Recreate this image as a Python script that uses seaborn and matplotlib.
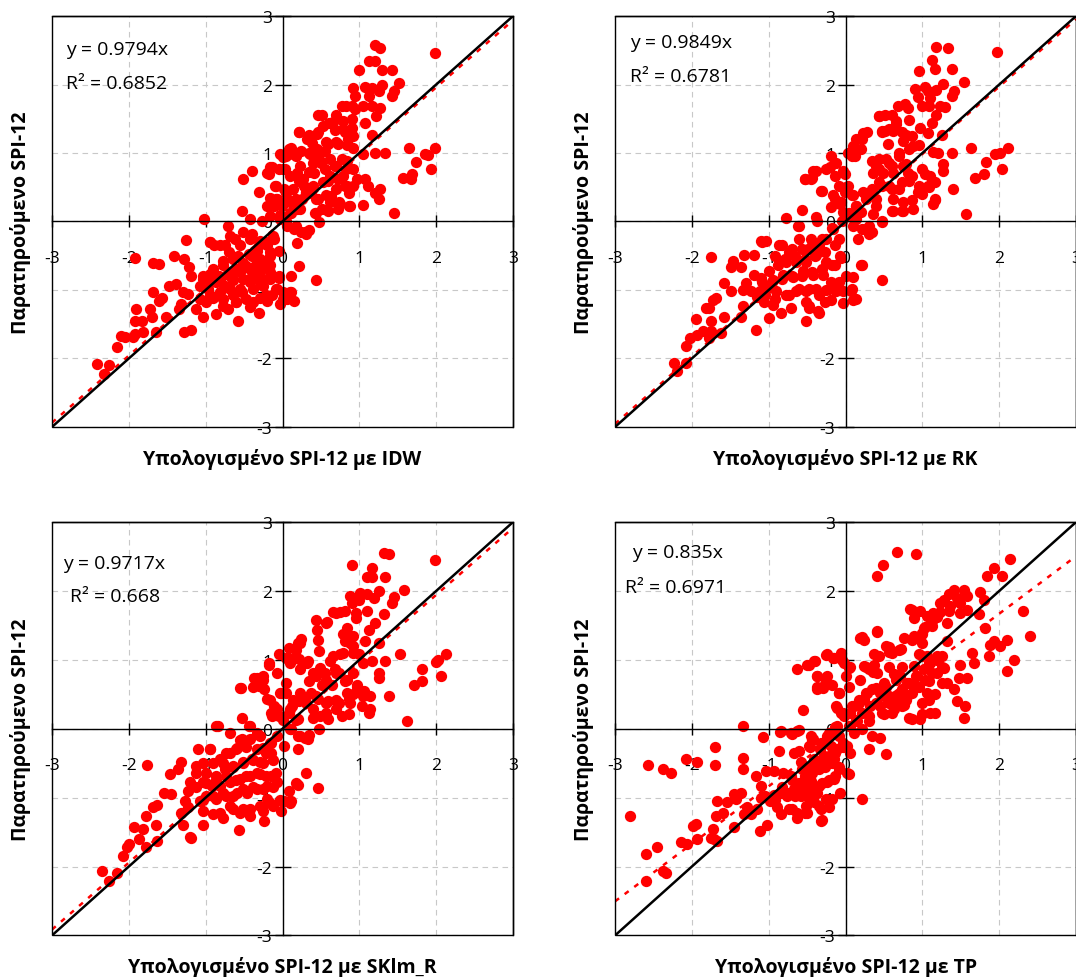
import pandas as pd
import matplotlib.pyplot as plt
from matplotlib.patches import Rectangle
import seaborn as sns

idw_pts = [
    (1.20, 2.57), (1.27, 2.53), (1.99, 2.46), (1.12, 2.35), (1.21, 2.34), (0.99, 2.21), (1.30, 2.21), (1.43, 2.21),
    (1.30, 2.00), (1.51, 2.02), (1.45, 1.90), (1.42, 1.83), (0.92, 1.95), (1.07, 1.97), (1.16, 1.95), (1.25, 1.90),
    (0.94, 1.83), (1.12, 1.83), (0.90, 1.68), (1.05, 1.69), (1.16, 1.68), (1.27, 1.66), (1.22, 1.54), (0.77, 1.68),
    (0.83, 1.68), (0.94, 1.64), (0.46, 1.56), (0.52, 1.56), (0.69, 1.56), (0.61, 1.44), (0.79, 1.47), (0.90, 1.49),
    (0.22, 1.31), (0.35, 1.27), (0.46, 1.30), (0.68, 1.34), (0.81, 1.30), (0.90, 1.37), (1.07, 1.44), (1.16, 1.27),
    (0.39, 1.15), (0.59, 1.13), (0.72, 1.13), (0.85, 1.20), (0.92, 1.08), (0.11, 1.08), (0.24, 1.03), (0.35, 1.00),
    (0.46, 1.00), (-0.03, 0.98), (0.04, 0.96), (0.17, 0.96), (1.05, 0.98), (1.21, 1.00), (1.33, 1.00), (1.65, 1.08),
    (1.99, 1.08), (1.85, 0.99), (1.89, 0.97), (1.74, 0.87), (1.93, 0.76), (1.57, 0.64), (1.67, 0.62), (1.69, 0.69),
    (1.45, 0.12), (1.05, 0.24), (1.25, 0.33), (1.27, 0.47), (1.07, 0.62), (1.11, 0.52), (1.20, 0.42), (0.92, 0.52),
    (0.87, 0.42), (0.77, 0.91), (0.83, 0.76), (0.68, 0.81), (0.55, 0.76), (0.59, 0.59), (0.72, 0.62), (0.81, 0.52),
    (0.63, 0.37), (0.74, 0.28), (0.59, 0.16), (0.87, 0.23), (0.72, 0.18), (0.48, -0.01), (0.44, 0.13), (0.46, 0.33),
    (0.37, 0.42), (0.28, 0.52), (0.22, 0.59), (0.19, 0.71), (0.41, 0.71), (0.50, 0.86), (0.30, 0.42), (0.26, 0.33),
    (0.15, 0.28), (0.19, 0.18), (0.11, 0.13), (0.06, 0.33), (0.02, 0.47), (-0.07, 0.33), (-0.11, 0.23), (-0.16, 0.35),
    (-0.20, 0.23), (-0.09, 0.52), (0.00, 0.76), (-0.16, 0.79), (-0.20, 0.71), (-0.51, 0.62), (-0.40, 0.74), (-0.31, 0.43),
    (-0.53, 0.16), (-1.02, 0.04), (-0.42, 0.03), (-0.27, 0.01), (-0.16, 0.08), (-0.03, 0.03), (0.06, -0.06), (0.15, -0.11),
    (0.24, -0.16), (0.30, -0.18), (0.19, -0.31), (0.22, -0.65), (0.11, -0.79), (0.44, -0.85), (0.11, -1.03), (0.15, -1.16),
    (0.00, -1.03), (-0.03, -1.20), (0.06, -1.13), (-0.71, -0.07), (-0.62, -0.25), (-0.95, -0.30), (-0.89, -0.35),
    (-0.75, -0.35), (-1.26, -0.27), (-0.51, -0.16), (-0.40, -0.18), (-0.29, -0.28), (-0.20, -0.35), (-0.33, -0.43),
    (-0.44, -0.48), (-0.58, -0.50), (-0.69, -0.45), (-0.78, -0.57), (-0.11, -0.26), (-0.05, -0.43), (-0.16, -0.50),
    (-0.25, -0.60), (-0.36, -0.65), (-0.47, -0.65), (-0.60, -0.69), (-0.69, -0.74), (-0.82, -0.79), (-0.95, -0.77),
    (-1.04, -0.84), (-1.08, -0.94), (-0.97, -0.99), (-0.86, -0.89), (-0.75, -0.94), (-0.64, -0.86), (-0.51, -0.84),
    (-0.40, -0.79), (-0.29, -0.79), (-0.16, -0.74), (-0.05, -0.82), (-0.25, -0.94), (-0.38, -0.99), (-0.53, -1.03),
    (-0.64, -1.08), (-0.78, -1.13), (-0.91, -1.11), (-1.00, -1.18), (-1.13, -1.28), (-1.04, -1.40), (-0.86, -1.35),
    (-0.71, -1.28), (-0.58, -1.45), (-0.42, -1.25), (-0.31, -1.33), (-0.20, -1.16), (-0.14, -1.08), (-0.07, -0.99),
    (-0.29, -1.11), (-0.47, -1.13), (-0.60, -1.18), (-1.22, -0.67), (-1.28, -0.55), (-1.41, -0.50), (-1.19, -0.79),
    (-1.39, -0.91), (-1.48, -0.94), (-1.30, -1.03), (-1.23, -1.06), (-1.32, -1.20), (-1.35, -1.28), (-1.19, -1.59),
    (-1.28, -1.62), (-1.52, -1.40), (-1.68, -0.60), (-1.61, -0.62), (-1.92, -0.54), (-1.68, -1.03), (-1.57, -1.11),
    (-1.61, -1.16), (-1.72, -1.28), (-1.90, -1.28), (-1.70, -1.40), (-1.83, -1.45), (-1.92, -1.45), (-1.81, -1.62),
    (-1.64, -1.62), (-1.92, -1.64), (-1.94, -1.69), (-2.05, -1.69), (-2.10, -1.67), (-2.16, -1.83), (-2.41, -2.08),
    (-2.26, -2.10), (-2.32, -2.22),
    (-0.18, 0.70), (-0.14, 0.79), (-0.10, 0.52), (-0.05, 0.76), (0.03, 0.76), (-0.08, 0.33), (-0.16, 0.23), (-0.01, 0.23),
    (0.10, 0.28), (0.05, 0.42), (0.14, 0.48), (0.18, 0.33), (0.23, 0.18), (0.10, 0.13), (-0.03, 0.09), (0.05, 0.00),
    (0.18, -0.06), (0.29, -0.16), (0.34, -0.13), (0.10, 0.67), (0.27, 0.62), (0.23, 0.81), (0.34, 0.72), (0.40, 0.86),
    (0.36, 0.98), (0.47, 0.91), (0.55, 1.03), (0.62, 0.91), (0.70, 0.81), (0.84, 0.88), (0.92, 0.77), (0.79, 0.67),
    (0.62, 0.67), (0.53, 0.57), (0.40, 0.52), (0.31, 0.43), (0.44, 0.33), (0.57, 0.38), (0.70, 0.47), (0.84, 0.52),
    (0.97, 0.62), (0.62, 0.28), (0.75, 0.25), (0.88, 0.23), (0.51, 0.18), (0.42, 0.13), (0.21, 1.30), (0.32, 1.20),
    (0.45, 1.28), (0.53, 1.40), (0.66, 1.45), (0.79, 1.35), (0.92, 1.25), (0.84, 1.11), (0.70, 1.16), (0.57, 1.16),
    (0.45, 1.06), (0.08, 1.06), (0.14, 0.98), (0.01, 0.94), (-0.94, -0.30), (-0.81, -0.35), (-0.68, -0.21),
    (-0.55, -0.35), (-0.42, -0.25), (-0.31, -0.35), (-0.21, -0.30), (-0.12, -0.21), (-0.16, -0.45), (-0.29, -0.55),
    (-0.40, -0.50), (-0.51, -0.60), (-0.64, -0.55), (-0.77, -0.64), (-0.90, -0.69), (-1.03, -0.79), (-0.94, -0.89),
    (-0.81, -0.84), (-0.68, -0.79), (-0.55, -0.74), (-0.42, -0.69), (-0.29, -0.69), (-0.16, -0.64), (-0.05, -0.79),
    (-0.16, -0.84), (-0.29, -0.89), (-0.42, -0.89), (-0.55, -0.98), (-0.68, -0.98), (-0.81, -1.03), (-0.94, -1.08),
    (-1.07, -1.13), (-0.77, -1.23), (-0.60, -1.18), (-0.38, -1.18), (-0.21, -1.08), (-0.08, -0.98), (0.01, -1.13),
    (0.10, -1.03),
]

rk_pts = [
    (1.18, 2.55), (1.33, 2.53), (1.97, 2.47), (1.12, 2.36), (0.96, 2.20), (1.17, 2.22), (1.38, 2.22), (1.54, 2.03),
    (1.27, 2.01), (1.41, 1.91), (1.39, 1.83), (0.90, 1.93), (1.03, 1.97), (1.07, 1.91), (1.18, 1.92), (0.94, 1.82),
    (1.10, 1.80), (0.99, 1.68), (1.09, 1.69), (1.23, 1.68), (1.29, 1.67), (1.18, 1.56), (1.12, 1.44), (0.68, 1.69),
    (0.77, 1.71), (0.81, 1.66), (0.66, 1.42), (0.83, 1.48), (0.44, 1.54), (0.51, 1.56), (0.60, 1.56), (0.47, 1.32),
    (0.51, 1.32), (0.62, 1.32), (0.79, 1.27), (0.97, 1.37), (1.07, 1.29), (1.26, 1.27), (0.23, 1.29), (0.14, 1.20),
    (0.10, 1.10), (0.20, 1.06), (0.55, 1.13), (0.75, 1.17), (0.88, 1.10), (0.03, 1.00), (0.12, 0.96), (-0.19, 0.96),
    (-0.12, 0.86), (-0.01, 0.69), (0.03, 0.52), (1.14, 1.01), (1.20, 1.00), (1.38, 1.00), (1.63, 1.08), (2.12, 1.08),
    (2.01, 1.00), (1.94, 0.98), (1.83, 0.87), (2.03, 0.76), (1.80, 0.69), (1.68, 0.64), (1.40, 0.47), (1.57, 0.11),
    (1.27, 0.84), (1.27, 0.74), (1.16, 0.57), (1.16, 0.33), (1.14, 0.26), (1.03, 0.69), (1.07, 0.52), (0.94, 0.43),
    (0.88, 0.18), (0.70, 1.00), (0.75, 0.81), (0.57, 0.86), (0.44, 0.91), (0.40, 0.81), (0.36, 0.71), (0.49, 0.71),
    (0.62, 0.71), (0.81, 0.71), (0.83, 0.59), (0.44, 0.57), (0.57, 0.52), (0.70, 0.47), (0.33, 0.43), (0.23, 0.43),
    (0.27, 0.33), (0.40, 0.33), (0.62, 0.33), (0.75, 0.28), (0.62, 0.16), (0.75, 0.16), (0.36, 0.11), (0.47, 0.01),
    (0.10, 0.38), (0.14, 0.23), (0.20, 0.14), (0.05, 0.09), (0.10, -0.06), (-0.03, 0.14), (-0.06, 0.28), (-0.14, 0.33),
    (-0.19, 0.21), (-0.01, 0.43), (-0.08, 0.52), (-0.25, 0.76), (-0.32, 0.45), (-0.43, 0.74), (-0.53, 0.62),
    (-0.45, 0.62), (-0.57, 0.17), (-0.77, 0.05), (-0.38, 0.06), (-0.62, -0.06), (0.27, -0.11), (0.31, -0.18),
    (0.16, -0.25), (0.20, -0.64), (0.10, -0.81), (0.47, -0.86), (0.07, -1.02), (0.10, -1.14), (-0.03, -1.19),
    (-0.03, -1.02), (-0.17, -0.11), (-0.08, -0.25), (-0.25, -0.25), (-0.34, -0.35), (-0.45, -0.25), (-0.60, -0.25),
    (-0.73, -0.44), (-0.86, -0.35), (-1.03, -0.28), (-1.10, -0.28), (-0.49, -0.40), (-0.38, -0.49), (-0.25, -0.59),
    (-0.14, -0.64), (-0.06, -0.54), (-0.51, -0.59), (-0.64, -0.59), (-0.77, -0.59), (-0.88, -0.64), (-0.99, -0.73),
    (-1.10, -0.83), (-0.95, -0.86), (-0.82, -0.78), (-0.69, -0.81), (-0.56, -0.73), (-0.43, -0.78), (-0.30, -0.78),
    (-0.19, -0.88), (-0.10, -0.95), (-0.25, -1.00), (-0.38, -0.98), (-0.51, -1.02), (-0.64, -1.02), (-0.77, -1.07),
    (-0.90, -1.02), (-1.03, -0.98), (-1.12, -1.02), (-1.06, -1.17), (-0.95, -1.22), (-0.99, -1.41), (-0.84, -1.34),
    (-0.71, -1.27), (-0.51, -1.17), (-0.47, -1.27), (-0.36, -1.31), (-0.51, -1.46), (-0.27, -1.17), (-0.19, -1.14),
    (-0.12, -1.02), (-1.32, -0.49), (-1.19, -0.49), (-1.47, -0.57), (-1.36, -0.66), (-1.49, -0.66), (-1.19, -0.78),
    (-1.30, -0.90), (-1.34, -1.00), (-1.15, -1.10), (-1.23, -1.02), (-1.34, -1.24), (-1.36, -1.39), (-1.17, -1.58),
    (-1.58, -0.90), (-1.49, -1.02), (-1.69, -1.12), (-1.73, -1.15), (-1.82, -1.26), (-1.78, -1.26), (-1.58, -1.39),
    (-1.75, -1.45), (-1.95, -1.43), (-1.86, -1.60), (-1.93, -1.65), (-2.03, -1.70), (-1.75, -1.60), (-1.78, -1.70),
    (-1.62, -1.63), (-2.08, -1.82), (-2.23, -2.06), (-2.08, -2.06), (-2.19, -2.19), (-1.75, -0.52),
    (-0.53, 0.62), (-0.44, 0.64), (-0.38, 0.74), (-0.20, 0.79), (-0.14, 0.67), (-0.03, 0.74), (-0.31, 0.45),
    (-0.16, 0.38), (-0.07, 0.26), (0.00, 0.50), (0.08, 0.38), (0.13, 0.23), (0.04, 0.13), (-0.05, 0.00), (0.13, 0.04),
    (0.21, -0.11), (0.34, -0.16), (0.30, -0.06), (0.08, 0.96), (0.15, 1.06), (0.21, 1.20), (0.28, 1.30), (0.34, 0.89),
    (0.43, 0.77), (0.52, 0.91), (0.60, 0.81), (0.69, 0.96), (0.78, 0.84), (0.86, 0.67), (0.95, 0.52), (0.73, 0.57),
    (0.60, 0.47), (0.47, 0.52), (0.34, 0.47), (0.26, 0.38), (0.39, 0.23), (0.47, -0.01), (0.60, 0.16), (0.73, 0.16),
    (0.86, 0.31), (1.00, 0.40), (1.08, 0.50), (1.17, 0.31), (1.10, 0.67), (1.00, 0.77), (0.82, 1.06), (0.95, 1.11),
    (0.86, 1.25), (0.73, 1.30), (0.56, 1.35), (0.47, 1.30), (0.65, 1.47), (0.43, 1.54), (-0.61, -0.06), (-0.37, 0.00),
    (-0.18, -0.10), (-0.31, -0.25), (-0.44, -0.35), (-0.57, -0.40), (-0.70, -0.40), (-0.83, -0.35), (-1.09, -0.30),
    (-0.92, -0.50), (-0.79, -0.55), (-0.66, -0.50), (-0.53, -0.55), (-0.40, -0.50), (-0.27, -0.45), (-0.14, -0.35),
    (-0.07, -0.50), (-0.18, -0.64), (-0.31, -0.69), (-0.44, -0.74), (-0.57, -0.79), (-0.70, -0.79), (-0.83, -0.84),
    (-0.96, -0.89), (-1.09, -0.89), (-1.05, -1.08), (-0.92, -1.13), (-0.74, -1.08), (-0.61, -0.98), (-0.48, -0.98),
    (-0.35, -1.08), (-0.22, -0.98), (-0.09, -0.89), (0.00, -0.79), (0.08, -0.98), (0.13, -1.13), (0.21, -0.64),
    (-0.48, -1.23), (-0.35, -1.33),
]

sklm_pts = [
    (1.32, 2.55), (1.38, 2.54), (1.99, 2.45), (0.90, 2.37), (1.16, 2.33), (1.10, 2.20), (1.34, 2.20), (1.16, 2.20),
    (1.58, 2.02), (1.45, 1.91), (1.42, 1.83), (0.88, 1.93), (1.01, 1.97), (1.10, 1.96), (0.99, 1.87), (1.19, 1.90),
    (1.25, 2.00), (0.90, 1.82), (1.10, 1.71), (1.32, 1.66), (1.21, 1.54), (0.95, 1.68), (1.12, 1.44), (0.66, 1.69),
    (0.75, 1.69), (0.81, 1.71), (0.44, 1.58), (0.58, 1.55), (0.84, 1.46), (0.95, 1.61), (0.20, 1.25), (0.24, 1.30),
    (0.46, 1.29), (0.81, 1.27), (0.92, 1.34), (1.08, 1.27), (1.25, 1.25), (0.09, 1.17), (0.48, 1.13), (0.75, 1.08),
    (0.92, 1.20), (0.99, 1.09), (-0.04, 1.08), (0.04, 1.03), (0.11, 1.01), (0.22, 1.01), (0.33, 0.98), (-0.18, 0.93),
    (1.16, 0.98), (1.34, 0.98), (1.53, 1.08), (2.00, 0.97), (2.03, 1.00), (2.13, 1.08), (1.82, 0.87), (2.06, 0.77),
    (1.81, 0.69), (1.71, 0.63), (1.39, 0.47), (1.62, 0.11), (1.14, 0.47), (1.12, 0.23), (1.03, 0.33), (1.25, 0.81),
    (1.25, 0.74), (0.62, 0.98), (0.68, 0.86), (0.73, 0.81), (0.55, 0.81), (0.44, 0.76), (0.35, 0.69), (0.51, 0.64),
    (0.64, 0.64), (0.81, 0.69), (0.92, 0.81), (0.97, 0.64), (1.06, 0.55), (0.37, 0.52), (0.29, 0.43), (0.22, 0.40),
    (0.46, 0.43), (0.59, 0.40), (0.73, 0.38), (0.86, 0.43), (0.92, 0.50), (0.77, 0.18), (0.59, 0.14), (0.86, 0.21),
    (0.40, 0.16), (0.48, -0.01), (0.13, 0.33), (0.09, 0.23), (0.20, 0.14), (0.11, -0.01), (0.04, 0.52), (-0.02, 0.52),
    (-0.11, 0.33), (-0.15, 0.23), (-0.04, 0.18), (-0.20, 0.43), (-0.24, 0.57), (-0.37, 0.74), (-0.26, 0.76),
    (-0.31, 0.62), (-0.54, 0.59), (-0.53, 0.16), (-0.84, 0.04), (-0.44, 0.04), (-0.33, -0.06), (0.20, -0.11),
    (0.29, -0.13), (0.33, -0.15), (0.20, -0.30), (0.31, -0.64), (0.20, -0.82), (0.46, -0.86), (0.09, -0.90),
    (0.11, -1.05), (-0.02, -1.19), (0.02, -1.05), (-0.07, -0.11), (0.02, -0.25), (-0.15, -0.20), (-0.26, -0.28),
    (-0.42, -0.15), (-0.53, -0.15), (-0.59, -0.28), (-0.68, -0.35), (-0.95, -0.29), (-1.10, -0.30), (-0.81, -0.44),
    (-0.15, -0.35), (-0.29, -0.49), (-0.40, -0.44), (-0.51, -0.49), (-0.64, -0.54), (-0.75, -0.59), (-0.86, -0.69),
    (-0.99, -0.64), (-1.12, -0.64), (-1.03, -0.78), (-0.92, -0.83), (-0.81, -0.83), (-0.68, -0.78), (-0.55, -0.73),
    (-0.42, -0.69), (-0.29, -0.66), (-0.15, -0.69), (-0.07, -0.78), (-0.20, -0.83), (-0.33, -0.88), (-0.46, -0.93),
    (-0.59, -0.93), (-0.73, -0.98), (-0.86, -1.02), (-0.99, -0.98), (-1.08, -1.05), (-1.03, -1.19), (-0.90, -1.24),
    (-0.77, -1.29), (-0.64, -1.17), (-0.51, -1.17), (-0.42, -1.27), (-0.26, -1.19), (-0.24, -1.34), (-0.13, -1.12),
    (-0.20, -1.02), (-0.57, -1.47), (-1.03, -1.39), (-1.32, -0.49), (-1.36, -0.59), (-1.47, -0.66), (-1.12, -0.54),
    (-1.21, -0.78), (-1.23, -0.90), (-1.27, -1.05), (-1.23, -1.14), (-1.32, -1.22), (-1.30, -1.39), (-1.19, -1.58),
    (-1.21, -1.57), (-1.76, -0.53), (-1.54, -0.93), (-1.45, -0.95), (-1.63, -1.10), (-1.69, -1.14), (-1.78, -1.27),
    (-1.65, -1.39), (-1.82, -1.46), (-1.93, -1.43), (-1.87, -1.60), (-2.00, -1.68), (-2.02, -1.72), (-1.78, -1.72),
    (-1.63, -1.63), (-2.07, -1.85), (-2.35, -2.06), (-2.15, -2.09), (-2.26, -2.21),
    (-0.55, 0.59), (-0.38, 0.61), (-0.33, 0.73), (-0.25, 0.71), (-0.18, 0.95), (-0.07, 0.81), (0.05, 0.66),
    (-0.03, 0.52), (-0.16, 0.42), (-0.07, 0.28), (-0.14, 0.18), (0.01, 0.13), (0.10, 0.28), (0.14, 0.42), (0.23, 0.52),
    (0.18, 0.13), (0.10, -0.01), (0.23, -0.11), (0.34, -0.09), (0.10, 0.96), (0.23, 0.87), (0.32, 0.96), (0.40, 0.81),
    (0.49, 0.88), (0.57, 0.71), (0.70, 0.81), (0.84, 0.71), (0.97, 0.61), (0.84, 0.52), (0.70, 0.42), (0.57, 0.38),
    (0.44, 0.47), (0.31, 0.38), (0.40, 0.28), (0.57, 0.23), (0.70, 0.28), (0.88, 0.37), (1.05, 0.47), (1.14, 0.28),
    (0.49, 0.18), (0.45, 1.43), (0.57, 1.53), (0.70, 1.68), (0.79, 1.38), (0.88, 1.24), (0.79, 1.10), (0.66, 1.05),
    (0.92, 1.10), (1.05, 0.95), (0.23, 1.24), (0.18, 1.14), (-0.86, 0.04), (-0.68, -0.06), (-0.55, -0.16),
    (-0.42, 0.04), (-0.29, -0.11), (-0.16, -0.20), (-0.21, -0.35), (-0.33, -0.30), (-0.47, -0.26), (-0.60, -0.30),
    (-0.73, -0.35), (-0.94, -0.30), (-1.03, -0.50), (-0.90, -0.50), (-0.77, -0.50), (-0.64, -0.55), (-0.51, -0.50),
    (-0.38, -0.45), (-0.25, -0.50), (-0.12, -0.45), (-0.08, -0.64), (-0.21, -0.69), (-0.33, -0.64), (-0.47, -0.69),
    (-0.60, -0.74), (-0.73, -0.69), (-0.86, -0.74), (-0.99, -0.79), (-1.12, -0.84), (-1.03, -1.03), (-0.90, -0.98),
    (-0.77, -0.93), (-0.64, -0.98), (-0.51, -0.88), (-0.38, -0.84), (-0.25, -0.88), (-0.12, -0.84), (-0.03, -1.03),
    (-0.16, -1.08), (-0.29, -1.12), (-0.42, -1.17), (-0.55, -1.22), (-0.68, -1.12), (-0.81, -1.22), (0.10, -1.08),
    (0.18, -0.79),
]

tp_pts = [
    (0.67, 2.56), (0.91, 2.54), (0.49, 2.38), (0.41, 2.21), (2.14, 2.46), (1.93, 2.34), (2.03, 2.21), (1.84, 2.21),
    (1.41, 2.01), (1.34, 1.95), (1.28, 1.87), (1.45, 1.90), (1.54, 2.01), (1.58, 1.92), (1.49, 1.83), (1.23, 1.83),
    (1.36, 1.78), (1.75, 1.98), (1.80, 1.87), (1.73, 1.66), (1.58, 1.73), (1.49, 1.68), (1.34, 1.71), (1.23, 1.69),
    (1.14, 1.68), (1.06, 1.63), (0.97, 1.71), (0.84, 1.74), (0.89, 1.60), (1.02, 1.46), (1.13, 1.49), (1.19, 1.62),
    (1.32, 1.53), (2.31, 1.71), (1.81, 1.46), (2.40, 1.34), (2.10, 1.29), (1.93, 1.27), (1.88, 1.22), (2.01, 1.20),
    (1.86, 1.06), (2.19, 1.00), (2.10, 0.84), (1.64, 1.10), (1.67, 0.96), (1.49, 0.93), (1.58, 0.74), (1.47, 0.74),
    (1.32, 0.67), (1.41, 0.57), (1.45, 0.40), (1.56, 0.33), (1.54, 0.16), (1.17, 0.23), (1.10, 0.23), (0.99, 0.21),
    (0.97, 0.14), (0.87, 0.14), (0.82, 0.16), (1.17, 0.50), (1.06, 0.52), (0.41, 1.42), (0.76, 1.32), (0.89, 1.34),
    (1.00, 1.39), (1.00, 1.25), (1.32, 1.27), (0.52, 1.20), (0.61, 1.10), (0.72, 1.15), (0.37, 1.08), (0.19, 1.32),
    (0.24, 1.29), (0.95, 1.08), (1.06, 1.05), (1.10, 0.96), (1.19, 1.00), (1.26, 1.05), (1.28, 0.88), (1.19, 0.81),
    (1.08, 0.69), (1.02, 0.86), (0.89, 0.91), (0.93, 0.76), (0.63, 0.79), (0.71, 0.76), (0.80, 0.67), (0.89, 0.62),
    (0.80, 0.47), (0.67, 0.43), (0.76, 0.35), (0.63, 0.28), (0.50, 0.21), (0.56, 0.47), (0.45, 0.52), (0.39, 0.59),
    (0.28, 0.52), (0.24, 0.43), (0.32, 0.33), (0.45, 0.33), (0.17, 0.38), (0.11, 0.33), (0.06, 0.23), (0.15, 0.11),
    (0.06, 0.04), (0.11, -0.06), (0.22, -0.01), (0.30, 0.11), (0.37, 0.93), (0.24, 0.91), (0.30, 0.86), (0.41, 0.81),
    (0.19, 0.71), (0.50, 0.67), (-0.06, 1.10), (-0.15, 1.03), (-0.24, 1.08), (-0.02, 0.96), (0.04, 0.88),
    (-0.09, 0.52), (-0.13, 0.33), (-0.24, 0.67), (-0.24, 0.76), (-0.30, 0.59), (-0.37, 0.57), (-0.37, 0.76),
    (-0.41, 0.98), (-0.50, 0.93), (-0.63, 0.86), (-0.56, 0.27), (-0.06, 0.23), (-0.11, 0.04), (-0.02, 0.18),
    (-0.15, -0.06), (-0.24, -0.11), (-0.32, -0.20), (-0.19, -0.25), (-0.28, -0.40), (-0.41, -0.44), (-0.50, -0.59),
    (-0.37, -0.54), (-0.24, -0.49), (-0.15, -0.44), (-0.11, -0.30), (-0.04, -0.20), (0.02, -0.25), (0.06, -0.35),
    (0.02, -0.64), (-0.09, -0.59), (-0.15, -0.73), (-0.24, -0.78), (-0.35, -0.83), (-0.45, -0.76), (-0.56, -0.81),
    (-0.67, -0.88), (-0.58, -0.98), (-0.48, -1.00), (-0.37, -0.93), (-0.26, -1.02), (-0.32, -1.17), (-0.22, -1.14),
    (-0.41, -1.07), (-0.52, -1.12), (-0.63, -1.22), (-0.74, -1.17), (-0.84, -1.24), (-0.89, -1.14), (-0.76, -0.98),
    (-0.84, -0.93), (-0.71, -0.68), (-0.82, -0.64), (-0.93, -0.61), (-1.04, -0.61), (-0.58, -0.49), (-0.67, -0.35),
    (-0.61, -0.32), (-0.48, -0.25), (-0.43, -0.15), (-0.71, -0.06), (-0.84, -0.03), (-0.63, -0.03), (-0.45, -0.11),
    (-1.08, -0.12), (-1.34, 0.04), (-0.86, -0.33), (0.22, -1.02), (0.04, -0.66), (0.30, -0.30), (0.52, -0.37),
    (0.45, -0.13), (0.35, -0.11), (-0.32, -1.34), (-0.50, -1.22), (-0.63, -1.29), (-0.98, -1.05), (-1.10, -1.00),
    (-1.17, -0.69), (-1.10, -0.83), (-0.93, -0.96), (-1.15, -1.17), (-1.28, -1.14), (-1.23, -1.24), (-1.02, -1.39),
    (-1.11, -1.48), (-1.34, -0.42), (-1.33, -0.59), (-1.45, -0.95), (-1.36, -0.93), (-1.43, -1.02), (-1.32, -1.24),
    (-1.45, -1.43), (-1.54, -1.07), (-1.67, -1.05), (-1.60, -1.22), (-1.69, -1.27), (-1.73, -1.46), (-1.71, -1.60),
    (-1.75, -1.58), (-1.67, -1.63), (-2.08, -0.44), (-1.93, -0.49), (-1.70, -0.26), (-1.70, -0.53), (-2.38, -0.59),
    (-2.27, -0.64), (-2.57, -0.53), (-2.80, -1.27), (-1.99, -1.41), (-1.95, -1.38), (-1.93, -1.60), (-2.06, -1.68),
    (-2.14, -1.65), (-2.45, -1.72), (-2.60, -1.82), (-2.38, -2.06), (-2.34, -2.09), (-2.60, -2.21),
    (-0.48, 0.93), (-0.40, 0.98), (-0.25, 1.07), (-0.16, 1.02), (-0.05, 1.00), (-0.37, 0.76), (-0.25, 0.71),
    (-0.31, 0.61), (-0.37, 0.61), (-0.18, 0.64), (-0.09, 0.52), (0.04, 0.61), (0.01, 0.76), (0.06, 0.90),
    (-0.11, 0.30), (-0.03, 0.23), (0.08, 0.33), (0.17, 0.42), (0.26, 0.52), (0.34, 0.57), (0.21, 0.23), (0.13, 0.13),
    (0.04, 0.04), (0.30, 0.18), (0.39, 0.37), (0.50, 0.47), (0.56, 0.37), (0.65, 0.47), (0.74, 0.57), (0.78, 0.42),
    (0.87, 0.52), (0.95, 0.61), (1.04, 0.71), (1.12, 0.81), (0.91, 0.76), (0.82, 0.66), (0.65, 0.71), (0.52, 0.61),
    (0.47, 0.23), (0.60, 0.23), (0.74, 0.33), (1.00, 0.37), (1.08, 0.42), (1.26, 0.66), (1.08, 0.95), (1.00, 1.05),
    (1.19, 1.05), (1.26, 0.90), (0.26, 0.90), (0.36, 0.83), (0.43, 1.05), (0.56, 1.12), (0.69, 1.14), (0.73, 0.90),
    (0.56, 0.90), (0.21, 1.33), (0.41, 1.40), (0.56, 1.19), (0.87, 1.29), (1.00, 1.38), (1.04, 1.48), (1.12, 1.57),
    (0.87, 1.72), (-0.85, -0.05), (-0.70, -0.07), (-0.61, -0.02), (-0.44, -0.16), (-0.46, -0.26), (-0.33, -0.30),
    (-0.25, -0.21), (-0.22, -0.06), (-0.14, 0.03), (-0.09, -0.11), (-0.03, -0.26), (-0.14, -0.35), (-0.22, -0.40),
    (-0.31, -0.45), (-0.40, -0.50), (-0.48, -0.55), (-0.57, -0.59), (-0.70, -0.74), (-0.61, -0.79), (-0.53, -0.69),
    (-0.44, -0.64), (-0.35, -0.59), (-0.27, -0.55), (-0.18, -0.50), (-0.09, -0.55), (-0.14, -0.69), (-0.22, -0.74),
    (-0.31, -0.79), (-0.40, -0.84), (-0.48, -0.88), (-0.57, -0.93), (-0.66, -0.98), (-0.74, -0.93), (-0.83, -0.84),
    (-0.92, -1.03), (-1.05, -0.98), (-0.70, -1.17), (-0.53, -1.22), (-0.35, -1.12), (-0.18, -1.02), (-0.07, -0.93),
    (-0.31, -1.32),
]

methods = ['IDW', 'RK', 'SKlm_R', 'TP']
panel_pts = [idw_pts, rk_pts, sklm_pts, tp_pts]
slopes = [0.9794, 0.9849, 0.9717, 0.835]
slope_text = ['0.9794', '0.9849', '0.9717', '0.835']
r2_text = ['0.6852', '0.6781', '0.668', '0.6971']

# text spots (data units) for the equation and R2 in each panel
eq_xy = [(-2.82, 2.52), (-2.80, 2.62), (-2.85, 2.41), (-2.78, 2.56)]
r2_xy = [(-2.82, 2.02), (-2.80, 2.12), (-2.77, 1.92), (-2.87, 2.06)]

sns.set_style('white')
plt.rcParams['font.family'] = ['Open Sans', 'DejaVu Sans']
plt.rcParams['text.color'] = 'black'

fig = plt.figure(figsize=(10.76, 9.78), dpi=100)
rects = [
    [0.0483, 0.5624, 0.4285, 0.4202],
    [0.5716, 0.5624, 0.4285, 0.4202],
    [0.0483, 0.0425, 0.4285, 0.4227],
    [0.5716, 0.0425, 0.4285, 0.4227],
]

for i in range(4):
    ax = fig.add_axes(rects[i])
    df = pd.DataFrame(panel_pts[i], columns=['calc', 'obs'])
    sns.scatterplot(data=df, x='calc', y='obs', ax=ax, color='#ff0000',
                    s=66, linewidth=0, zorder=3)

    line_x = [-3, 3]
    ax.plot(line_x, [slopes[i] * v for v in line_x], color='#ff0000',
            linestyle=(0, (2, 2.8)), linewidth=1.8, zorder=4)
    ax.plot(line_x, line_x, color='black', linewidth=1.8, zorder=5)

    ax.set_xlim(-3, 3)
    ax.set_ylim(-3, 3)
    ax.set_xticks([-3, -2, -1, 0, 1, 2, 3])
    ax.set_yticks([-3, -2, -1, 0, 1, 2, 3])
    ax.set_xticklabels(['-3', '-2', '-1', '0', '1', '2', '3'])
    ax.set_yticklabels(['-3', '-2', '-1', '0', '1', '2', '3'])

    ax.grid(True, color='#c8c8c8', linestyle=(0, (5, 4)), linewidth=0.8, zorder=0)
    ax.set_axisbelow(True)

    # axes cross at the origin, frame kept around the plot
    ax.spines['left'].set_position(('data', 0))
    ax.spines['bottom'].set_position(('data', 0))
    for side in ['left', 'bottom', 'top', 'right']:
        ax.spines[side].set_color('black')
        ax.spines[side].set_linewidth(1.0)
        ax.spines[side].set_zorder(6)
    ax.add_patch(Rectangle((0, 0), 1, 1, transform=ax.transAxes, fill=False,
                           edgecolor='black', linewidth=1.0, zorder=6, clip_on=False))

    ax.tick_params(axis='x', direction='inout', length=9, width=1, pad=16,
                   labelsize=12.5, colors='black', bottom=True)
    ax.tick_params(axis='y', direction='inout', length=11, width=1, pad=2,
                   labelsize=12.5, colors='black', left=True)

    ax.set_xlabel('')
    ax.set_ylabel('')
    ax.text(0.5, -0.076, 'Υπολογισμένο SPI-12 με ' + methods[i], transform=ax.transAxes,
            ha='center', va='center', fontsize=14, fontweight='bold', color='black')
    ax.text(-0.068, 0.5, 'Παρατηρούμενο SPI-12', transform=ax.transAxes, rotation=90,
            ha='center', va='center', fontsize=14, fontweight='bold', color='black')

    ax.text(eq_xy[i][0], eq_xy[i][1], 'y = ' + slope_text[i] + 'x',
            ha='left', va='center', fontsize=14, color='black', zorder=7)
    ax.text(r2_xy[i][0], r2_xy[i][1], 'R² = ' + r2_text[i],
            ha='left', va='center', fontsize=14, color='black', zorder=7)

plt.savefig('out.png', dpi=100)
